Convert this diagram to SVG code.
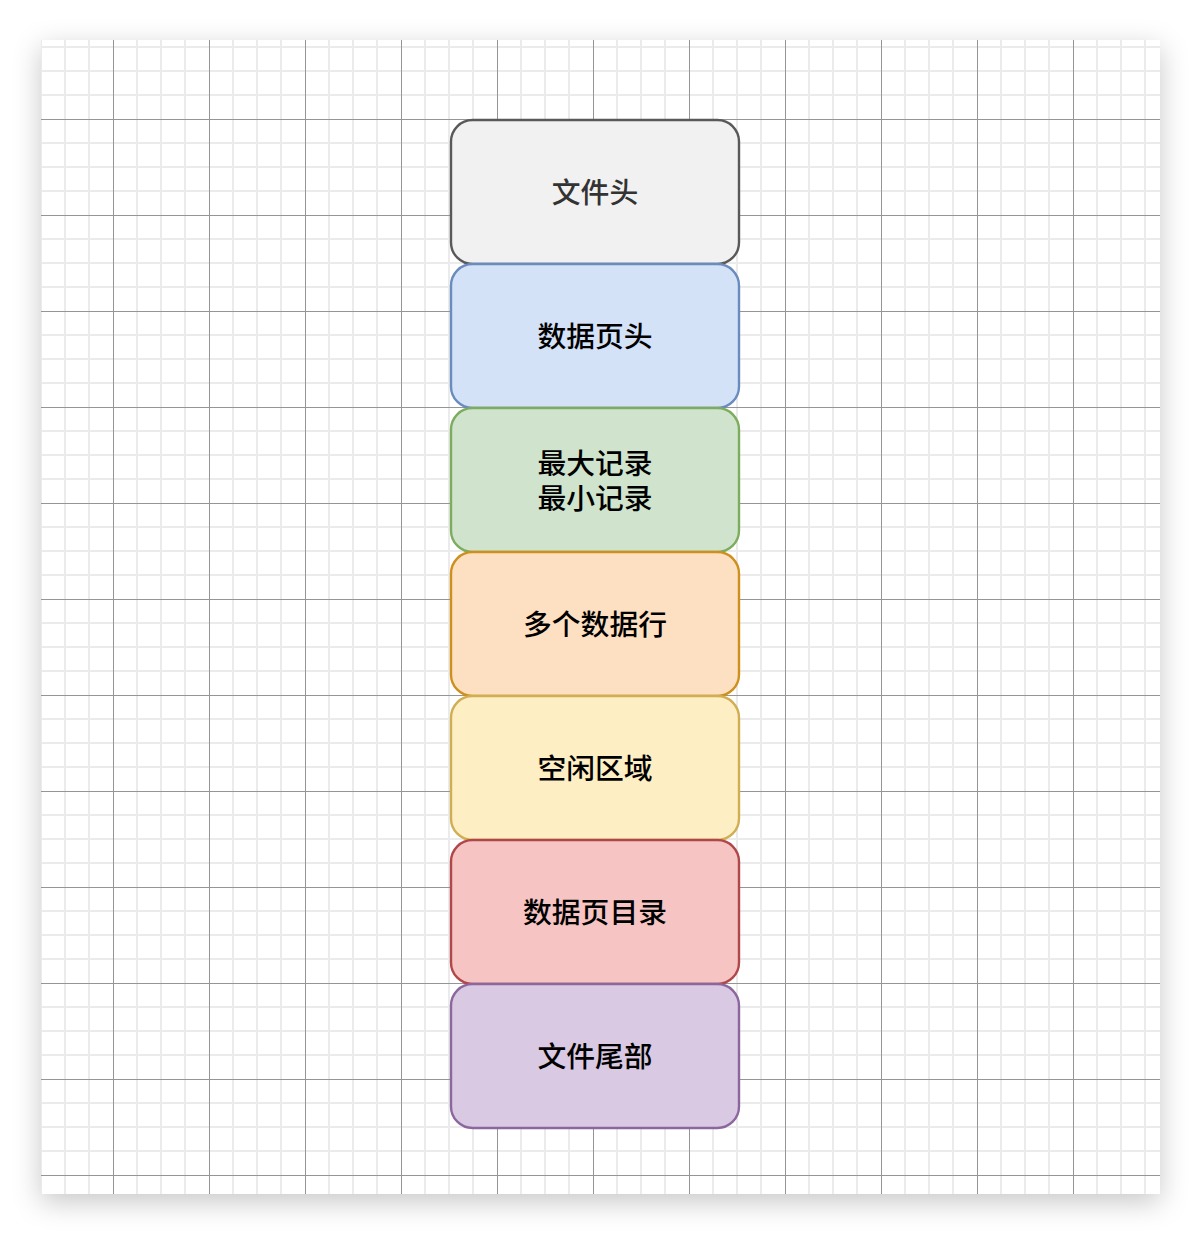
<svg xmlns="http://www.w3.org/2000/svg" width="1200" height="1234" viewBox="0 0 1200 1234">
<style>
.box{stroke-width:2.4}
.lbl{font-family:"Liberation Sans","Noto Sans CJK SC",sans-serif;font-size:28.8px;font-weight:500;text-anchor:middle;dominant-baseline:central;fill:#000}
</style>
<defs>
<filter id="sh" x="-10%" y="-10%" width="120%" height="120%">
<feDropShadow dx="0" dy="8" stdDeviation="14" flood-color="#000" flood-opacity="0.22"/>
</filter>
<pattern id="grid" patternUnits="userSpaceOnUse" x="5" y="11" width="96" height="96">
<rect x="35" y="0" width="2" height="96" fill="#ebebeb"/>
<rect x="59" y="0" width="2" height="96" fill="#ebebeb"/>
<rect x="83" y="0" width="2" height="96" fill="#ebebeb"/>
<rect x="0" y="35" width="96" height="2" fill="#ebebeb"/>
<rect x="0" y="59" width="96" height="2" fill="#ebebeb"/>
<rect x="0" y="83" width="96" height="2" fill="#ebebeb"/>
<rect x="12" y="0" width="1" height="96" fill="#959595"/>
<rect x="0" y="12" width="96" height="1" fill="#959595"/>
</pattern>
</defs>
<rect width="1200" height="1234" fill="#fff"/>
<rect x="41" y="40" width="1119" height="1154" fill="#fff" filter="url(#sh)"/>
<rect x="41" y="40" width="1119" height="1154" fill="url(#grid)"/>
<g id="connectors"/>
<g id="n1"><rect class="box" x="451" y="120" width="288" height="144" rx="21.6" fill="#f1f1f1" stroke="#595959"/><text class="lbl" x="595" y="193" style="fill:#333">文件头</text></g>
<g id="n2"><rect class="box" x="451" y="264" width="288" height="144" rx="21.6" fill="#d4e2f8" stroke="#6a8bbd"/><text class="lbl" x="595" y="337">数据页头</text></g>
<g id="n3"><rect class="box" x="451" y="408" width="288" height="144" rx="21.6" fill="#d0e4cd" stroke="#7eac5e"/><text class="lbl" x="595" y="464">最大记录</text><text class="lbl" x="595" y="499">最小记录</text></g>
<g id="n4"><rect class="box" x="451" y="552" width="288" height="144" rx="21.6" fill="#fde0c2" stroke="#cf8f1c"/><text class="lbl" x="595" y="625">多个数据行</text></g>
<g id="n5"><rect class="box" x="451" y="696" width="288" height="144" rx="21.6" fill="#feeec4" stroke="#cfae54"/><text class="lbl" x="595" y="769">空闲区域</text></g>
<g id="n6"><rect class="box" x="451" y="840" width="288" height="144" rx="21.6" fill="#f5c4c3" stroke="#b0474a"/><text class="lbl" x="595" y="913">数据页目录</text></g>
<g id="n7"><rect class="box" x="451" y="984" width="288" height="144" rx="21.6" fill="#d9c9e3" stroke="#8c679e"/><text class="lbl" x="595" y="1057">文件尾部</text></g>
</svg>
